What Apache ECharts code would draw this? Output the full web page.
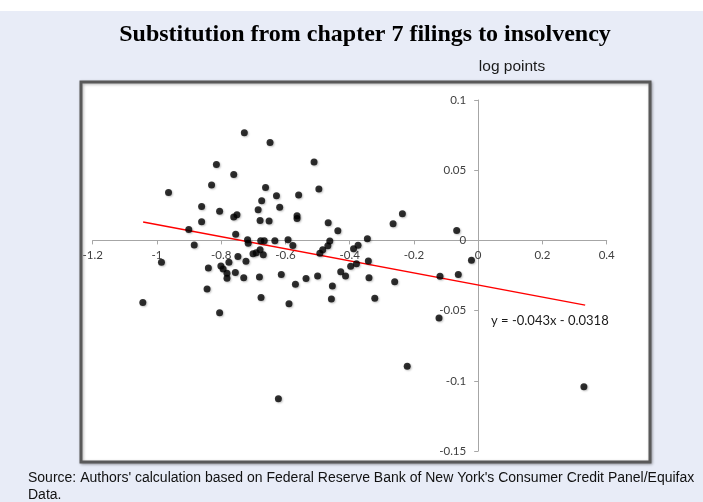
<!DOCTYPE html>
<html>
<head>
<meta charset="utf-8">
<title>Substitution from chapter 7 filings to insolvency</title>
<script src="https://cdn.jsdelivr.net/npm/echarts@6/dist/echarts.min.js"></script>
<style>
  html, body { margin: 0; padding: 0; background: #fff; }
  #chart { width: 703px; height: 502px; }
</style>
</head>
<body>
<div id="chart"></div>
<script>
// scatter points (x, y in log points)
const xValues = [
  -0.964, -0.728, -0.648, -0.815, -0.761, -0.830, -0.511, -0.496, -0.662, -0.559,
  -0.628, -0.861, -0.674, -0.805, -0.618, -0.685, -0.761, -0.751, -0.564, -0.564,
  -0.861, -0.679, -0.651, -0.467, -0.901, -0.437, -0.755, -0.345, -0.265, -0.236,
  -0.067, -0.718, -0.716, -0.677, -0.666, -0.633, -0.592, -0.577, -0.884, -0.462,
  -0.468, -0.484, -0.493, -0.388, -0.374, -0.701, -0.691, -0.679, -0.669, -0.748,
  -0.723, -0.776, -0.801, -0.794, -0.782, -0.782, -0.756, -0.730, -0.840, -0.844,
  -0.805, -0.986, -1.044, -0.681, -0.676, -0.613, -0.589, -0.569, -0.536, -0.500,
  -0.454, -0.457, -0.428, -0.413, -0.397, -0.379, -0.342, -0.340, -0.322, -0.260,
  -0.122, -0.119, -0.062, -0.021, -0.221, 0.329, -0.622
];
const yValues = [
  0.0342, 0.0767, 0.0698, 0.0541, 0.0469, 0.0395, 0.0558, 0.0366, 0.0377, 0.0324,
  0.0318, 0.0241, 0.0283, 0.0208, 0.0236, 0.0219, 0.0167, 0.0183, 0.0176, 0.0156,
  0.0132, 0.0142, 0.0138, 0.0126, 0.0078, 0.0068, 0.0044, 0.0011, 0.0119, 0.0190,
  0.0071, 0.0005, -0.0020, -0.0002, -0.0002, -0.0002, 0.0005, -0.0036, -0.0032, -0.0004,
  -0.0038, -0.0066, -0.0091, -0.0059, -0.0034, -0.0095, -0.0088, -0.0066, -0.0102, -0.0114,
  -0.0148, -0.0155, -0.0182, -0.0203, -0.0234, -0.0269, -0.0228, -0.0266, -0.0197, -0.0346,
  -0.0515, -0.0155, -0.0442, -0.0261, -0.0406, -0.0242, -0.0452, -0.0312, -0.0271, -0.0254,
  -0.0324, -0.0417, -0.0224, -0.0253, -0.0185, -0.0167, -0.0147, -0.0266, -0.0412, -0.0294,
  -0.0552, -0.0255, -0.0242, -0.0141, -0.0897, -0.1042, -0.1127
];

// linear trend line end points
const trendX = [-1.043, 0.333];
const trendY = [0.0131, -0.0461];
const trendLabel = 'y = -0.043x - 0.0318';

// axis ranges
const xMin = -1.2, xMax = 0.4, xStep = 0.2;
const yMin = -0.15, yMax = 0.1, yStep = 0.05;

const titleText = 'Substitution from chapter 7 filings to insolvency';
const unitText = 'log points';
const sourceText = "Source: Authors' calculation based on Federal Reserve Bank of New York's Consumer Credit Panel/Equifax\nData.";

const chart = echarts.init(document.getElementById('chart'));

const labelFont = 'Lato, "Open Sans", sans-serif';

// grid box, axes cross at (0, 0) so shift them there with an offset
const grid = { left: 92.7, right: 96.3, top: 100, bottom: 51 };
const gridW = 703 - grid.left - grid.right;
const gridH = 502 - grid.top - grid.bottom;
const xAxisOffset = -gridH * (0 - yMin) / (yMax - yMin);
const yAxisOffset = -gridW * (0 - xMin) / (xMax - xMin);

const option = {
  backgroundColor: '#e8ecf7',
  animation: false,
  grid: grid,
  graphic: [
    { type: 'rect', z: -20, silent: true,
      shape: { x: 0, y: 0, width: 703, height: 11 },
      style: { fill: '#ffffff' } },
    { type: 'rect', z: -10, silent: true,
      shape: { x: 81, y: 82, width: 569, height: 380 },
      style: { fill: '#ffffff', stroke: '#595959', lineWidth: 3,
        shadowBlur: 3, shadowOffsetX: 1, shadowOffsetY: 1, shadowColor: 'rgba(0,0,0,0.3)' } },
    { type: 'text', silent: true, x: 365, y: 35,
      style: { text: titleText, fill: '#000', font: 'bold 24px "Liberation Serif", "DejaVu Serif", serif',
        align: 'center', verticalAlign: 'middle' } },
    { type: 'text', silent: true, x: 512, y: 67,
      style: { text: unitText, fill: '#1a1a1a', font: '15.5px "Liberation Sans", Arial, sans-serif',
        align: 'center', verticalAlign: 'middle' } },
    { type: 'text', silent: true, x: 491, y: 321,
      style: { text: trendLabel, fill: '#1a1a1a', font: '13px ' + labelFont,
        align: 'left', verticalAlign: 'middle' } },
    { type: 'text', silent: true, x: 28, y: 470,
      style: { text: sourceText, fill: '#111', font: '14px "Liberation Sans", Arial, sans-serif',
        lineHeight: 17, align: 'left', verticalAlign: 'top' } }
  ],
  xAxis: {
    type: 'value',
    min: xMin, max: xMax, interval: xStep,
    offset: xAxisOffset,
    axisLine: { onZero: false, lineStyle: { color: '#a6a6a6', width: 1 } },
    axisTick: { show: true, length: 4, lineStyle: { color: '#a6a6a6' } },
    axisLabel: { color: '#404040', fontSize: 11.5, fontFamily: labelFont, margin: 9,
      showMinLabel: true, showMaxLabel: true },
    splitLine: { show: false }
  },
  yAxis: {
    type: 'value',
    min: yMin, max: yMax, interval: yStep,
    offset: yAxisOffset,
    axisLine: { onZero: false, lineStyle: { color: '#a6a6a6', width: 1 } },
    axisTick: { show: true, length: 4, lineStyle: { color: '#a6a6a6' } },
    axisLabel: { color: '#404040', fontSize: 11.5, fontFamily: labelFont, margin: 12,
      showMinLabel: true, showMaxLabel: true },
    splitLine: { show: false }
  },
  series: [
    {
      type: 'line',
      data: trendX.map((x, i) => [x, trendY[i]]),
      showSymbol: false,
      lineStyle: { color: '#ff0000', width: 1.5 },
      z: 2
    },
    {
      type: 'scatter',
      data: xValues.map((x, i) => [x, yValues[i]]),
      symbolSize: 7,
      itemStyle: { color: '#000000', shadowBlur: 2, shadowOffsetX: 1, shadowOffsetY: 1,
        shadowColor: 'rgba(0,0,0,0.3)' },
      z: 3
    }
  ]
};

chart.setOption(option);
</script>
</body>
</html>
